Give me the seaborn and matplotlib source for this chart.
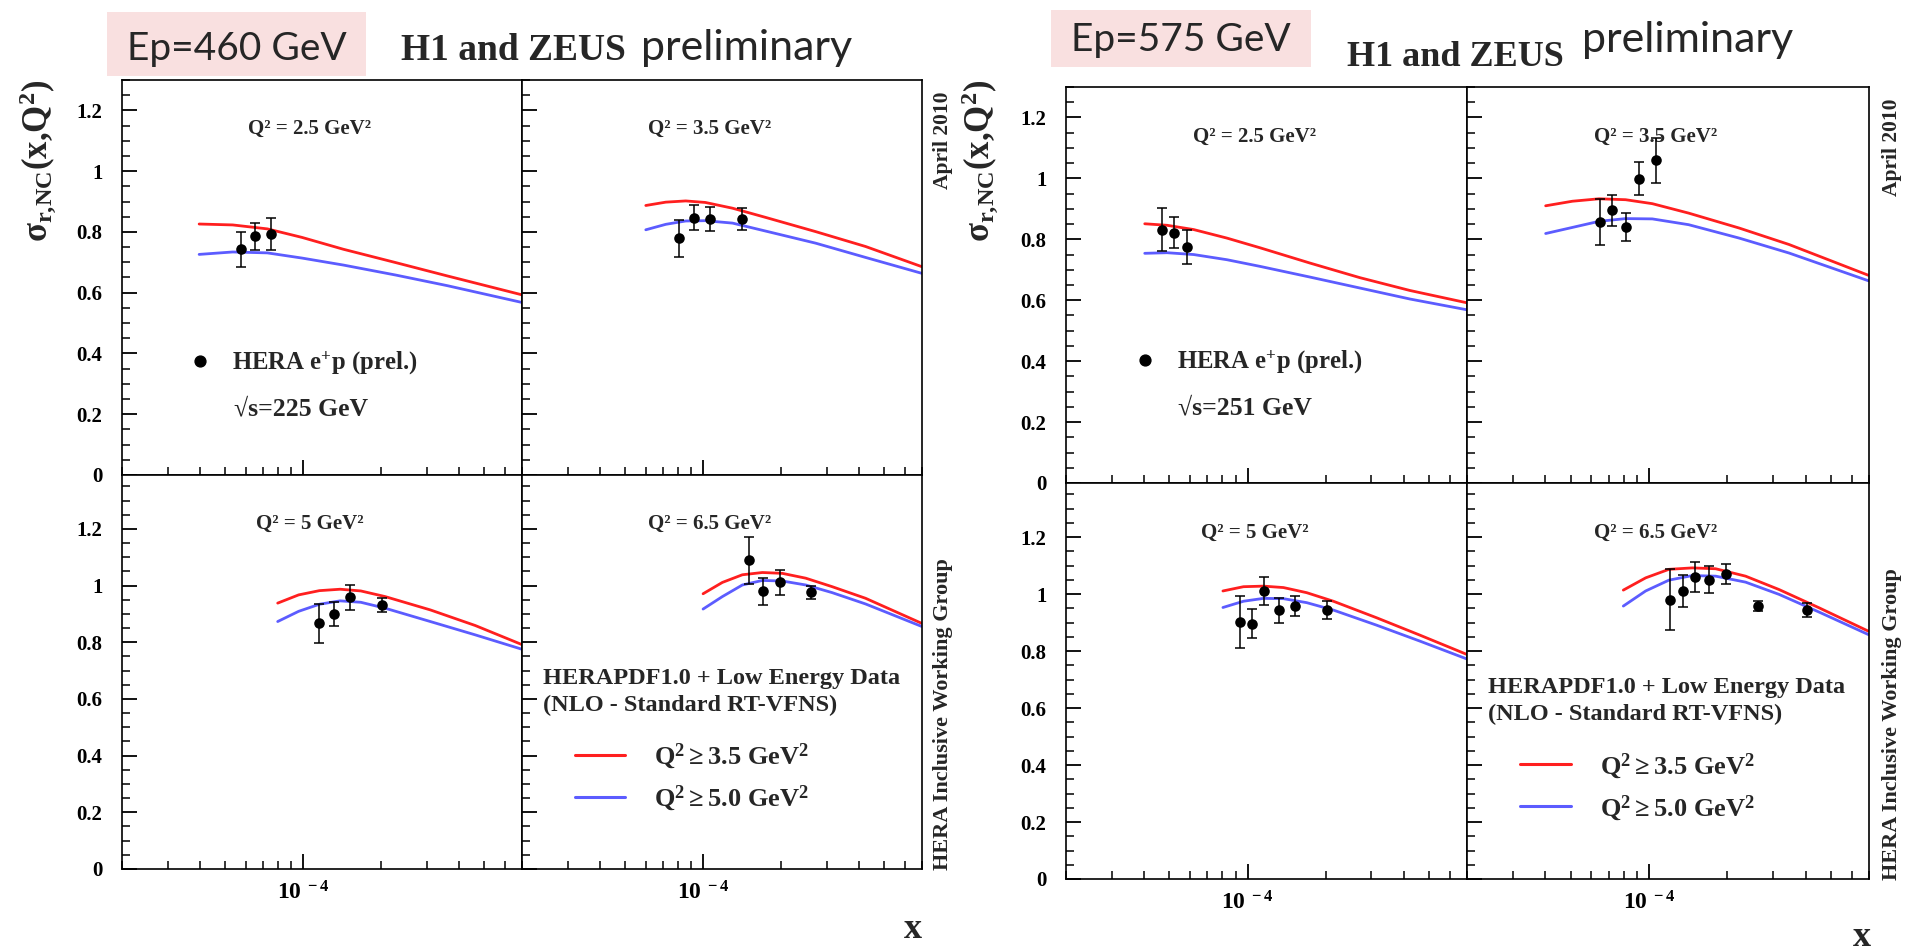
import numpy as np
import matplotlib
matplotlib.use('Agg')
import matplotlib.pyplot as plt
from matplotlib.ticker import (LogLocator, MultipleLocator, FixedLocator,
                               FixedFormatter, NullFormatter, FuncFormatter)
from matplotlib.patches import Rectangle
from matplotlib.lines import Line2D
import seaborn as sns

# ---------------- data ----------------
# Ep = 460 GeV  (sqrt(s) = 225 GeV)
x460_q25 = [5.78e-5, 6.54e-5, 7.55e-5]
y460_q25 = [0.743, 0.785, 0.793]
e460_q25 = [0.058, 0.043, 0.052]
cx460_q25 = [3.97e-5, 5.35e-5, 7.28e-5, 9.9e-5, 1.43e-4, 2.28e-4, 3.61e-4, 7.07e-4]
red460_q25 = [0.826, 0.823, 0.810, 0.782, 0.743, 0.699, 0.655, 0.592]
blue460_q25 = [0.726, 0.734, 0.731, 0.714, 0.691, 0.658, 0.623, 0.567]

x460_q35 = [8.10e-5, 9.23e-5, 1.06e-4, 1.41e-4]
y460_q35 = [0.779, 0.847, 0.843, 0.843]
e460_q35 = [0.060, 0.041, 0.039, 0.036]
cx460_q35 = [6.01e-5, 7.18e-5, 8.57e-5, 1.02e-4, 1.30e-4, 1.74e-4, 2.72e-4, 4.24e-4, 6.97e-4]
red460_q35 = [0.887, 0.898, 0.902, 0.897, 0.878, 0.848, 0.801, 0.752, 0.686]
blue460_q35 = [0.807, 0.825, 0.836, 0.837, 0.829, 0.803, 0.763, 0.716, 0.664]

x460_q5 = [1.156e-4, 1.315e-4, 1.516e-4, 2.02e-4]
y460_q5 = [0.867, 0.900, 0.959, 0.931]
e460_q5 = [0.068, 0.043, 0.044, 0.025]
cx460_q5 = [7.98e-5, 9.61e-5, 1.156e-4, 1.39e-4, 1.67e-4, 2.075e-4, 3.10e-4, 4.62e-4, 7.07e-4]
red460_q5 = [0.938, 0.967, 0.982, 0.987, 0.981, 0.961, 0.914, 0.859, 0.790]
blue460_q5 = [0.873, 0.909, 0.934, 0.946, 0.941, 0.920, 0.873, 0.826, 0.774]

x460_q65 = [1.504e-4, 1.70e-4, 1.975e-4, 2.62e-4]
y460_q65 = [1.090, 0.979, 1.011, 0.977]
e460_q65 = [0.083, 0.048, 0.044, 0.023]
cx460_q65 = [1.0e-4, 1.187e-4, 1.418e-4, 1.694e-4, 2.023e-4, 2.49e-4, 3.15e-4, 4.24e-4, 6.97e-4]
red460_q65 = [0.971, 1.011, 1.038, 1.046, 1.043, 1.026, 0.996, 0.955, 0.867]
blue460_q65 = [0.917, 0.961, 1.002, 1.018, 1.016, 1.002, 0.975, 0.935, 0.856]

# Ep = 575 GeV  (sqrt(s) = 251 GeV)
x575_q25 = [4.67e-5, 5.21e-5, 5.83e-5]
y575_q25 = [0.832, 0.822, 0.774]
e575_q25 = [0.071, 0.050, 0.055]
cx575_q25 = [4.02e-5, 4.90e-5, 6.20e-5, 8.33e-5, 1.119e-4, 1.74e-4, 2.71e-4, 4.22e-4, 6.96e-4]
red575_q25 = [0.851, 0.846, 0.832, 0.804, 0.772, 0.722, 0.674, 0.632, 0.592]
blue575_q25 = [0.754, 0.756, 0.750, 0.733, 0.711, 0.676, 0.640, 0.604, 0.569]

x575_q35 = [6.50e-5, 7.23e-5, 8.13e-5, 9.18e-5, 1.06e-4]
y575_q35 = [0.857, 0.895, 0.842, 0.999, 1.059]
e575_q35 = [0.075, 0.050, 0.046, 0.054, 0.073]
cx575_q35 = [4.01e-5, 5.08e-5, 6.43e-5, 8.13e-5, 1.03e-4, 1.42e-4, 2.22e-4, 3.45e-4, 6.96e-4]
red575_q35 = [0.910, 0.925, 0.933, 0.930, 0.917, 0.886, 0.837, 0.783, 0.682]
blue575_q35 = [0.819, 0.839, 0.859, 0.868, 0.867, 0.848, 0.804, 0.755, 0.664]

x575_q5 = [9.37e-5, 1.042e-4, 1.162e-4, 1.323e-4, 1.529e-4, 2.02e-4]
y575_q5 = [0.902, 0.896, 1.011, 0.943, 0.958, 0.944]
e575_q5 = [0.090, 0.050, 0.050, 0.044, 0.034, 0.033]
cx575_q5 = [8.04e-5, 9.65e-5, 1.152e-4, 1.375e-4, 1.69e-4, 2.14e-4, 3.14e-4, 4.61e-4, 6.96e-4]
red575_q5 = [1.011, 1.026, 1.028, 1.023, 1.005, 0.975, 0.917, 0.856, 0.789]
blue575_q5 = [0.953, 0.975, 0.985, 0.984, 0.970, 0.944, 0.891, 0.835, 0.773]

x575_q65 = [1.204e-4, 1.347e-4, 1.502e-4, 1.705e-4, 1.97e-4, 2.615e-4, 4.03e-4]
y575_q65 = [0.981, 1.011, 1.061, 1.051, 1.069, 0.958, 0.944]
e575_q65 = [0.107, 0.057, 0.052, 0.048, 0.035, 0.018, 0.024]
cx575_q65 = [7.97e-5, 9.71e-5, 1.193e-4, 1.467e-4, 1.804e-4, 2.35e-4, 3.16e-4, 4.50e-4, 6.96e-4]
red575_q65 = [1.014, 1.057, 1.087, 1.092, 1.089, 1.063, 1.016, 0.952, 0.870]
blue575_q65 = [0.958, 1.011, 1.049, 1.065, 1.063, 1.042, 0.999, 0.937, 0.858]

q_labels = ['Q² = 2.5 GeV²', 'Q² = 3.5 GeV²', 'Q² = 5 GeV²', 'Q² = 6.5 GeV²']
ep_labels = ['Ep=460 GeV', 'Ep=575 GeV']
sqrt_s_labels = ['√s=225 GeV', '√s=251 GeV']
curve_labels = [r'$Q^2 \geq 3.5\ GeV^2$', r'$Q^2 \geq 5.0\ GeV^2$']
data_label = 'HERA e$^{+}$p (prel.)'
x_ticks = [1e-4]
x_tick_labels = [r'$10^{\ -4}$']

# ---------------- style ----------------
sns.set_style('ticks')
plt.rcParams['font.family'] = ['Liberation Serif', 'DejaVu Serif']
plt.rcParams['font.weight'] = 'bold'
plt.rcParams['mathtext.fontset'] = 'custom'
plt.rcParams['mathtext.rm'] = 'Liberation Serif:bold'
plt.rcParams['mathtext.bf'] = 'Liberation Serif:bold'
plt.rcParams['mathtext.it'] = 'Liberation Serif:italic:bold'
plt.rcParams['mathtext.default'] = 'bf'
plt.rcParams['axes.linewidth'] = 1.2
plt.rcParams['axes.edgecolor'] = 'black'
plt.rcParams['axes.axisbelow'] = False
plt.rcParams['xtick.color'] = 'black'
plt.rcParams['ytick.color'] = 'black'
plt.rcParams['xtick.direction'] = 'in'
plt.rcParams['ytick.direction'] = 'in'
plt.rcParams['xtick.top'] = False
plt.rcParams['ytick.right'] = False
plt.rcParams['xtick.bottom'] = True
plt.rcParams['ytick.left'] = True
plt.rcParams['xtick.minor.visible'] = True
plt.rcParams['ytick.minor.visible'] = True
plt.rcParams['xtick.major.size'] = 11
plt.rcParams['ytick.major.size'] = 11
plt.rcParams['xtick.minor.size'] = 6
plt.rcParams['ytick.minor.size'] = 6
plt.rcParams['xtick.major.width'] = 1.3
plt.rcParams['ytick.major.width'] = 1.3
plt.rcParams['xtick.minor.width'] = 1.1
plt.rcParams['ytick.minor.width'] = 1.1

RED = '#ff1f1f'
BLUE = '#5c5cff'
PINK = '#f9e0e0'

W, H = 1912, 951
fig = plt.figure(figsize=(W / 100, H / 100), dpi=100)


def add_ax(x0, x1, y0, y1):
    return fig.add_axes([x0 / W, 1 - y1 / H, (x1 - x0) / W, (y1 - y0) / H])


def draw_panel(ax, cx, red, blue, px, py, pe, ylim, top_row, left_col, qlab):
    ax.set_xscale('log')
    sns.lineplot(x=cx, y=red, ax=ax, color=RED, lw=2.0, sort=False,
                 estimator=None, legend=False)
    sns.lineplot(x=cx, y=blue, ax=ax, color=BLUE, lw=2.0, sort=False,
                 estimator=None, legend=False)
    ax.errorbar(px, py, yerr=pe, fmt='none', ecolor='black', elinewidth=1.1,
                capsize=3.5, capthick=1.1, zorder=4)
    sns.scatterplot(x=px, y=py, ax=ax, color='black', s=58, linewidth=0,
                    zorder=5, legend=False)
    ax.set_xlim(2e-5, 7e-4)
    ax.set_ylim(*ylim)
    ax.set_xlabel('')
    ax.set_ylabel('')
    ax.set_axisbelow(False)
    ax.yaxis.set_major_locator(MultipleLocator(0.2))
    ax.yaxis.set_minor_locator(MultipleLocator(0.05))
    ax.yaxis.set_major_formatter(FuncFormatter(lambda v, p: f'{v:g}'))
    ax.xaxis.set_major_locator(FixedLocator(x_ticks))
    ax.xaxis.set_major_formatter(FixedFormatter(x_tick_labels))
    ax.xaxis.set_minor_locator(LogLocator(base=10, subs=np.arange(2, 10), numticks=50))
    ax.xaxis.set_minor_formatter(NullFormatter())
    ax.tick_params(which='major', direction='in', length=11, width=1.3,
                   color='black', top=False, right=False, bottom=True, left=True)
    ax.tick_params(which='minor', direction='in', length=6, width=1.1,
                   color='black', top=False, right=False, bottom=True, left=True)
    ax.tick_params(axis='y', which='major', pad=14, labelsize=15, labelleft=left_col)
    ax.tick_params(axis='x', which='major', pad=9, labelsize=17, labelbottom=not top_row)
    for s in ax.spines.values():
        s.set_linewidth(1.2)
        s.set_color('black')
        s.set_zorder(6)
    ax.text(0.47, 0.875, qlab, transform=ax.transAxes, ha='center',
            va='center', fontsize=15)


figs = [
    dict(cols=[(122, 522), (522, 922)], rows=[(80, 475), (475, 869)],
         panels=[(cx460_q25, red460_q25, blue460_q25, x460_q25, y460_q25, e460_q25),
                 (cx460_q35, red460_q35, blue460_q35, x460_q35, y460_q35, e460_q35),
                 (cx460_q5, red460_q5, blue460_q5, x460_q5, y460_q5, e460_q5),
                 (cx460_q65, red460_q65, blue460_q65, x460_q65, y460_q65, e460_q65)],
         leg=(0.165, 0.284), sq=(0.28, 0.167)),
    dict(cols=[(1066, 1467), (1467, 1869)], rows=[(87, 483), (483, 879)],
         panels=[(cx575_q25, red575_q25, blue575_q25, x575_q25, y575_q25, e575_q25),
                 (cx575_q35, red575_q35, blue575_q35, x575_q35, y575_q35, e575_q35),
                 (cx575_q5, red575_q5, blue575_q5, x575_q5, y575_q5, e575_q5),
                 (cx575_q65, red575_q65, blue575_q65, x575_q65, y575_q65, e575_q65)],
         leg=(0.165, 0.306), sq=(0.279, 0.19)),
]

for fi, fd in enumerate(figs):
    k = 0
    for r, (y0, y1) in enumerate(fd['rows']):
        for c, (x0, x1) in enumerate(fd['cols']):
            ax = add_ax(x0, x1, y0, y1)
            cx, red, blue, px, py, pe = fd['panels'][k]
            ylim = (0, 1.30) if r == 0 else (0, 1.39)
            draw_panel(ax, cx, red, blue, px, py, pe, ylim, r == 0, c == 0, q_labels[k])
            if k == 0:
                h = Line2D([], [], marker='o', ls='none', color='black', markersize=7.8)
                ax.legend([h], [data_label], loc='center left',
                          bbox_to_anchor=fd['leg'], frameon=False, fontsize=17.8,
                          handlelength=1.0, handletextpad=0.8, borderpad=0,
                          borderaxespad=0)
                ax.text(fd['sq'][0], fd['sq'][1], sqrt_s_labels[fi],
                        transform=ax.transAxes, ha='left', va='center', fontsize=18.5)
            if k == 3:
                ax.text(0.053, 0.484, 'HERAPDF1.0 + Low Energy Data',
                        transform=ax.transAxes, ha='left', va='center', fontsize=17.5)
                ax.text(0.053, 0.415, '(NLO - Standard RT-VFNS)',
                        transform=ax.transAxes, ha='left', va='center', fontsize=17.5)
                hs = [Line2D([], [], color=RED, lw=2.2), Line2D([], [], color=BLUE, lw=2.2)]
                ax.legend(hs, curve_labels, loc='center left',
                          bbox_to_anchor=(0.133, 0.233), frameon=False, fontsize=19,
                          handlelength=1.9, handletextpad=1.1, labelspacing=0.45,
                          borderpad=0, borderaxespad=0)
            k += 1


def ftext(px, py, s, **kw):
    fig.text(px / W, 1 - py / H, s, **kw)


# header boxes and titles
fig.add_artist(Rectangle((107 / W, 1 - 76 / H), (366 - 107) / W, (76 - 12) / H,
                         transform=fig.transFigure, facecolor=PINK, edgecolor='none'))
fig.add_artist(Rectangle((1051 / W, 1 - 67 / H), (1311 - 1051) / W, (67 - 10) / H,
                         transform=fig.transFigure, facecolor=PINK, edgecolor='none'))
sans = dict(family='Lato', weight='normal', fontsize=28, va='baseline', ha='center')
ftext(237, 60, ep_labels[0], **sans)
ftext(1181, 51, ep_labels[1], **sans)
sans2 = dict(sans, fontsize=31)
ftext(747, 60, 'preliminary', **sans2)
ftext(1688, 52, 'preliminary', **sans2)
ftext(513, 60, 'H1 and ZEUS', fontsize=27, ha='center', va='baseline')
ftext(1455, 66, 'H1 and ZEUS', fontsize=26, ha='center', va='baseline')

# axis titles and side notes
ylab = r'$\sigma_{r{,}NC}(x{,}Q^{2})$'
ftext(38, 80, ylab, rotation=90, ha='center', va='top', fontsize=25)
ftext(980, 80, ylab, rotation=90, ha='center', va='top', fontsize=25)
ftext(943, 140, 'April 2010', rotation=90, ha='center', va='center', fontsize=15.5)
ftext(1892, 147, 'April 2010', rotation=90, ha='center', va='center', fontsize=15.5)
ftext(943, 870, 'HERA Inclusive Working Group', rotation=90, ha='center',
      va='bottom', fontsize=16)
ftext(1892, 880, 'HERA Inclusive Working Group', rotation=90, ha='center',
      va='bottom', fontsize=16)
ftext(913, 930, 'x', ha='center', va='center', fontsize=26)
ftext(1862, 938, 'x', ha='center', va='center', fontsize=26)

fig.savefig('out.png', dpi=100, facecolor='white')
